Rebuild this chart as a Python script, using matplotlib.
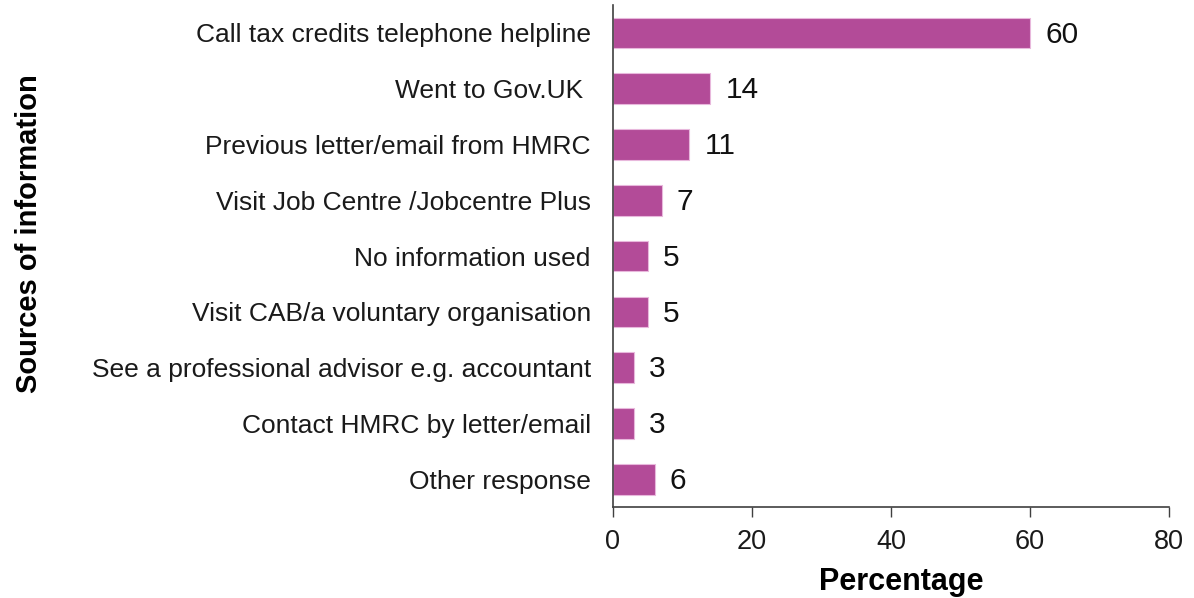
import matplotlib.pyplot as plt
import numpy as np

plt.rcParams['font.family'] = ['Liberation Sans', 'DejaVu Sans']

sources = [
    "Call tax credits telephone helpline",
    "Went to Gov.UK ",
    "Previous letter/email from HMRC",
    "Visit Job Centre /Jobcentre Plus",
    "No information used",
    "Visit CAB/a voluntary organisation",
    "See a professional advisor e.g. accountant",
    "Contact HMRC by letter/email",
    "Other response",
]
percent = [60, 14, 11, 7, 5, 5, 3, 3, 6]
xticks = [0, 20, 40, 60, 80]

fig = plt.figure(figsize=(11.94, 5.98), dpi=100)
ax = fig.add_axes([0.5134, 0.152, 0.4657, 0.8396])

y = np.arange(len(sources))
ax.barh(y, percent, height=0.55, color='#b34b98', edgecolor='#e8b8dc', linewidth=0.8)

for yi, v in zip(y, percent):
    ax.text(v + 2.2, yi + 0.03, str(v), va='center', ha='left', fontsize=21.5, color='#111111')

ax.set_yticks(y)
ax.set_yticklabels(sources, fontsize=19, color='#1a1a1a')
ax.tick_params(axis='y', length=0, pad=16)
ax.set_ylim(len(sources) - 0.5, -0.5)

ax.set_xlim(0, 80)
ax.set_xticks(xticks)
ax.tick_params(axis='x', length=7, width=1, color='#404040', labelsize=19.5,
               labelcolor='#1a1a1a', pad=9)

for side in ['top', 'right']:
    ax.spines[side].set_visible(False)
for side in ['left', 'bottom']:
    ax.spines[side].set_color('#404040')
    ax.spines[side].set_linewidth(1.2)

ax.set_xlabel("Percentage", fontsize=22, fontweight='bold', labelpad=5)
ax.xaxis.set_label_coords(0.518, -0.12)
fig.text(0.024, 0.61, "Sources of information", rotation=90, fontsize=21,
         fontweight='bold', ha='center', va='center')

fig.savefig("out.png", dpi=100, facecolor='white')
